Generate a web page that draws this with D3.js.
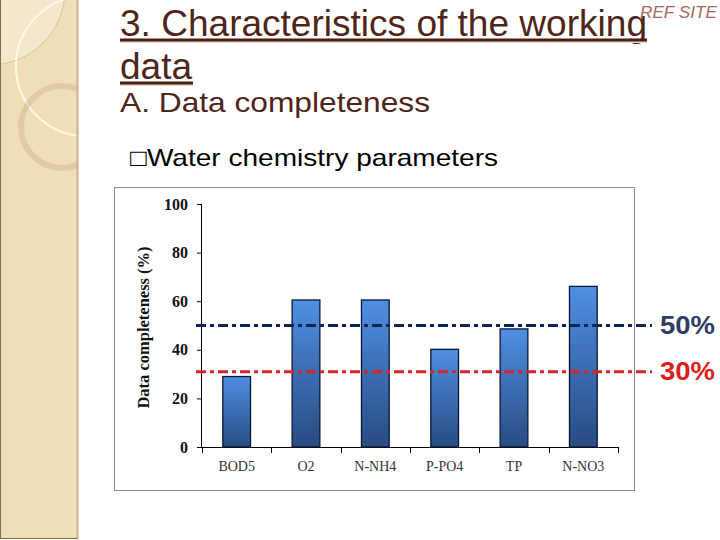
<!DOCTYPE html>
<html><head><meta charset="utf-8">
<script src="https://cdn.jsdelivr.net/npm/d3@7"></script>
<style>body{margin:0;background:#fff}svg{display:block}</style>
</head><body>
<svg id="c" width="720" height="540"></svg>
<script>
const categories = ["BOD5", "O2", "N-NH4", "P-PO4", "TP", "N-NO3"];
const completeness = [29, 60.5, 60.5, 40.2, 48.6, 66.1];
const yTicks = [0, 20, 40, 60, 80, 100];
const thresholdValues = [50, 31];
const thresholdLabels = ["50%", "30%"];
const thresholdColors = ["#0d2656", "#d8232a"];
const thresholdLabelColors = ["#2e3d66", "#e01b1b"];

const svg = d3.select("#c");
const defs = svg.append("defs");
const sans = "Liberation Sans, Arial, sans-serif";
const serif = "Liberation Serif, Times New Roman, serif";

// ---- decorative left strip ----
const clip = defs.append("clipPath").attr("id", "strip");
clip.append("rect").attr("x", 0).attr("y", 0).attr("width", 78).attr("height", 538);
const g0 = svg.append("g");
g0.append("rect").attr("x", 0).attr("y", 0).attr("width", 78).attr("height", 538).attr("fill", "#f0dfb6");
const gs = g0.append("g").attr("clip-path", "url(#strip)");
gs.append("circle").attr("cx", -10).attr("cy", -10).attr("r", 75).attr("fill", "#f5ead0").attr("opacity", 0.85);
gs.append("circle").attr("cx", -10).attr("cy", -10).attr("r", 75).attr("fill", "none").attr("stroke", "#cdb78c").attr("stroke-width", 0.8);
gs.append("circle").attr("cx", 86).attr("cy", 66).attr("r", 70).attr("fill", "none").attr("stroke", "#fff8e6").attr("stroke-width", 2);
gs.append("circle").attr("cx", 62).attr("cy", 127).attr("r", 41).attr("fill", "none").attr("stroke", "#c9b48c").attr("stroke-width", 6).attr("opacity", 0.45);
g0.append("line").attr("x1", 77.5).attr("x2", 77.5).attr("y1", 0).attr("y2", 538).attr("stroke", "#c7b38d").attr("stroke-width", 2);
g0.append("line").attr("x1", 0.5).attr("x2", 0.5).attr("y1", 0).attr("y2", 538).attr("stroke", "#7d6c50").attr("stroke-width", 1);
g0.append("line").attr("x1", 0).attr("x2", 78).attr("y1", 538.5).attr("y2", 538.5).attr("stroke", "#7d6c50").attr("stroke-width", 1);

// ---- titles ----
const titleColor = "#4e2519";
function txt(t, x, y, size, fill, len) {
  const el = svg.append("text").attr("x", x).attr("y", y).attr("font-family", sans)
    .attr("font-size", size).attr("fill", fill).text(t);
  if (len) el.attr("textLength", len).attr("lengthAdjust", "spacingAndGlyphs");
  return el;
}
txt("3. Characteristics of the working", 120, 36, 36, titleColor, 527);
svg.append("rect").attr("x", 120).attr("y", 41).attr("width", 527).attr("height", 2).attr("fill", "#ead7c8");
svg.append("rect").attr("x", 120).attr("y", 38.5).attr("width", 527).attr("height", 3).attr("fill", "#4a1e12");
txt("data", 120, 79, 36, titleColor, 72);
svg.append("rect").attr("x", 120).attr("y", 84).attr("width", 73).attr("height", 2).attr("fill", "#ead7c8");
svg.append("rect").attr("x", 120).attr("y", 81.5).attr("width", 73).attr("height", 3).attr("fill", "#4a1e12");
txt("A. Data completeness", 120, 111.5, 28, titleColor, 310);
txt("REF SITE", 640, 18, 16, "#a56b5c", 77).attr("font-style", "italic");
txt("\u25A1Water chemistry parameters", 130, 165.5, 24, "#000", 368);

// ---- chart box ----
svg.append("rect").attr("x", 114.5).attr("y", 187.5).attr("width", 520).attr("height", 303)
  .attr("fill", "#fff").attr("stroke", "#8c8c8c").attr("stroke-width", 1);

const x = d3.scaleBand().domain(categories).range([202, 618]).paddingInner(0.6).paddingOuter(0.3);
const y = d3.scaleLinear().domain([0, 100]).range([447, 204]);

const grad = defs.append("linearGradient").attr("id", "barg").attr("x1", 0).attr("y1", 0).attr("x2", 0).attr("y2", 1);
grad.append("stop").attr("offset", "0%").attr("stop-color", "#4f8fe2");
grad.append("stop").attr("offset", "100%").attr("stop-color", "#284b82");

// y axis
const ya = svg.append("g").attr("transform", "translate(202,0)")
  .call(d3.axisLeft(y).tickValues(yTicks).tickSize(5).tickPadding(9));
ya.select(".domain").attr("stroke", "#000").attr("d", "M-0.5," + y(100) + "V" + y(0));
ya.selectAll(".tick line").attr("stroke", "#000");
ya.selectAll("text").attr("font-family", serif).attr("font-size", 16).attr("font-weight", "bold").attr("fill", "#111");

// x axis
const xa = svg.append("g").attr("transform", "translate(0,447)")
  .call(d3.axisBottom(x).tickSize(0).tickPadding(14));
xa.select(".domain").attr("stroke", "#000").attr("d", "M202,0.5H618");
xa.selectAll("text").attr("font-family", serif).attr("font-size", 14).attr("fill", "#333");
const step = x.step();
const bounds = d3.range(categories.length + 1).map(i => x(categories[0]) - step * 0.3 + i * step);
xa.selectAll(".bt").data(bounds).enter().append("line").attr("class", "bt")
  .attr("x1", d => Math.round(d) + 0.5).attr("x2", d => Math.round(d) + 0.5).attr("y1", 0).attr("y2", 6).attr("stroke", "#000");

// y title
svg.append("text").attr("transform", "translate(149," + ((y(0) + y(100)) / 2 + 2) + ") rotate(-90)")
  .attr("text-anchor", "middle").attr("font-family", serif).attr("font-size", 16.5).attr("font-weight", "bold")
  .attr("fill", "#111").text("Data completeness (%)");

// bars
svg.append("g").selectAll("rect").data(categories).enter().append("rect")
  .attr("x", d => x(d)).attr("width", x.bandwidth())
  .attr("y", (d, i) => y(completeness[i])).attr("height", (d, i) => y(0) - y(completeness[i]))
  .attr("fill", "url(#barg)").attr("stroke", "#0b1733").attr("stroke-width", 1.3);

// threshold lines
const tg = svg.append("g");
thresholdValues.forEach((v, i) => {
  tg.append("line").attr("x1", 196).attr("x2", 652).attr("y1", y(v)).attr("y2", y(v))
    .attr("stroke", thresholdColors[i]).attr("stroke-width", 3).attr("stroke-dasharray", "10,4,4,4");
  tg.append("text").attr("x", 660).attr("y", y(v) + 8.5).attr("font-family", sans)
    .attr("font-size", 25).attr("font-weight", "bold").attr("fill", thresholdLabelColors[i])
    .attr("textLength", 55).attr("lengthAdjust", "spacingAndGlyphs").text(thresholdLabels[i]);
});
</script>
</body></html>
